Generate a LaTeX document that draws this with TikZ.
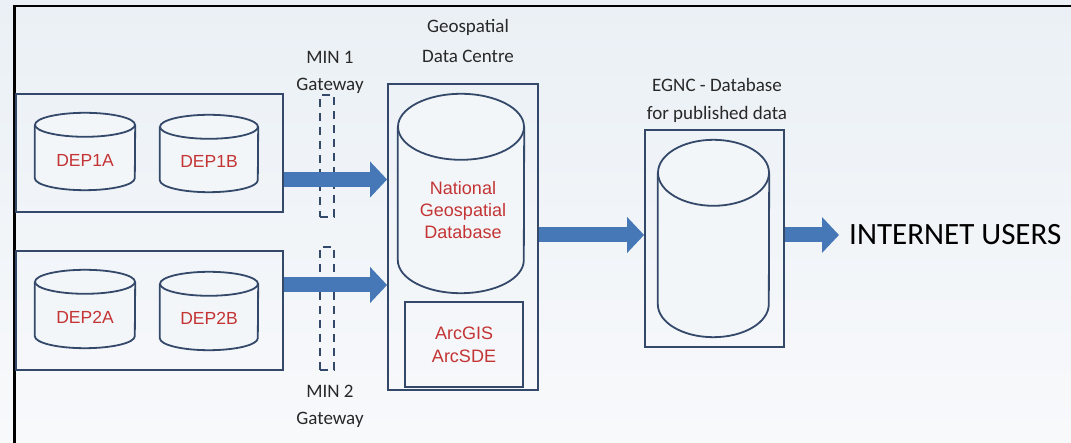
\documentclass[tikz,border=0pt]{standalone}
\usepackage{fontspec}
\setmainfont{Liberation Sans}
\newfontfamily\calfont{Carlito}
\usetikzlibrary{arrows.meta,calc}
\definecolor{bgtop}{RGB}{234,240,245}
\definecolor{bgbot}{RGB}{248,249,251}
\definecolor{navy}{RGB}{52,72,106}
\definecolor{arrowblue}{RGB}{70,120,184}
\definecolor{labred}{RGB}{196,52,52}
\definecolor{labgrey}{RGB}{40,40,40}
\definecolor{cylfill}{RGB}{243,246,249}
\tikzset{
  frame/.style={draw=navy, line width=1.8pt},
  gate/.style={draw=navy, line width=1.6pt, dash pattern=on 8pt off 6pt},
  cylarea/.style={draw=none, inner sep=0pt},
  cylline/.style={draw=navy, line width=1.8pt, fill=cylfill},
  redlab/.style={text=labred, font=\fontsize{17.5}{22}\selectfont, align=center, inner sep=0pt},
  greylab/.style={text=labgrey, font=\calfont\fontsize{19}{28}\selectfont, inner sep=0pt},
  flow/.style={draw=arrowblue, line width=15pt, -{Triangle[width=35pt,length=17pt]}, shorten >=0pt},
}
% \drawcyl{node}{rx}{ry}: node spans the whole cylinder
\newcommand{\drawcyl}[3]{%
  \path[cylline] ($(#1.north west)+(0,#3)$) -- ($(#1.south west)-(0,#3)$)
     arc[start angle=180, end angle=360, x radius=#2pt, y radius=#3pt]
     -- ($(#1.north east)+(0,#3)$);
  \path[cylline] ($(#1.north)+(0,#3)$) ellipse[x radius=#2pt, y radius=#3pt];
}
\begin{document}
\begin{tikzpicture}[x=1pt,y=-1pt]
\useasboundingbox (0,0) rectangle (1071,443);
\shade[top color=bgtop, bottom color=bgbot] (0,0) rectangle (1071,443);
\draw[black, line width=2.2pt] (14.5,443) -- (14.5,6) -- (1071,6);

% department boxes
\node[frame, minimum width=267pt, minimum height=118pt, inner sep=0pt] (box1) at (149.5,153) {};
\node[frame, minimum width=267pt, minimum height=119pt, inner sep=0pt] (box2) at (149.5,310.5) {};

% small cylinders
\node[cylarea, minimum width=100pt, minimum height=77pt] (d1a) at (85,151.5) {};
\node[cylarea, minimum width=98pt, minimum height=77pt] (d1b) at (209,153.5) {};
\node[cylarea, minimum width=100pt, minimum height=78pt] (d2a) at (85,309) {};
\node[cylarea, minimum width=98pt, minimum height=78pt] (d2b) at (209,311) {};
\drawcyl{d1a}{50}{12}
\drawcyl{d1b}{49}{12}
\drawcyl{d2a}{50}{12}
\drawcyl{d2b}{49}{12}
\node[redlab] (t1a) at (85,160) {DEP1A};
\node[redlab] (t1b) at (209,161) {DEP1B};
\node[redlab] (t2a) at (85,317) {DEP2A};
\node[redlab] (t2b) at (209,318) {DEP2B};

% gateways
\node[gate, minimum width=14pt, minimum height=122pt, inner sep=0pt] (gw1) at (327,156) {};
\node[gate, minimum width=14pt, minimum height=123pt, inner sep=0pt] (gw2) at (327,308.5) {};
\node[greylab] (min1) at (330,57) {MIN 1};
\node[greylab] (gwl1) at (330,86) {Gateway};
\node[greylab] (min2) at (330,391) {MIN 2};
\node[greylab] (gwl2) at (330,420) {Gateway};

% geospatial data centre
\node[frame, minimum width=150pt, minimum height=306pt, inner sep=0pt] (gdc) at (463,237) {};
\node[greylab] (gdcl1) at (468,27) {Geospatial};
\node[greylab] (gdcl2) at (468,56) {Data Centre};
\node[cylarea, minimum width=126pt, minimum height=199pt] (ngd) at (461,193.5) {};
\drawcyl{ngd}{63}{33}
\node[redlab, font=\fontsize{18}{22}\selectfont] (ngdt) at (463,210) {National\\Geospatial\\Database};
\node[frame, minimum width=118pt, minimum height=85pt, inner sep=0pt, align=center,
      text=labred, font=\fontsize{18}{23}\selectfont] (arc) at (464,344.5) {ArcGIS\\ArcSDE};

% EGNC
\node[frame, minimum width=139pt, minimum height=217pt, inner sep=0pt] (egnc) at (714.5,238.5) {};
\node[greylab] (egl1) at (717,85) {EGNC - Database};
\node[greylab] (egl2) at (717,114) {for published data};
\node[cylarea, minimum width=111pt, minimum height=197pt] (edb) at (713.5,238.5) {};
\drawcyl{edb}{55.5}{33}

% users
\node[anchor=west, inner sep=0pt, text=black, font=\calfont\fontsize{31}{36}\selectfont] (users) at (849,235) {INTERNET USERS};

% arrows
\coordinate (a1s) at (box1.east |- 0,179.5);
\coordinate (a1e) at (gdc.west |- 0,179.5);
\coordinate (a2s) at (box2.east |- 0,285);
\coordinate (a2e) at (gdc.west |- 0,285);
\coordinate (a3s) at (gdc.east |- 0,235);
\coordinate (a3e) at (egnc.west |- 0,235);
\coordinate (a4s) at (egnc.east |- 0,235);
\coordinate (a4e) at ($(users.west)+(-10,0)$);
\draw[flow] (a1s) -- (a1e);
\draw[flow] (a2s) -- (a2e);
\draw[flow] (a3s) -- (a3e);
\draw[flow] (a4s) -- (a4e);
\end{tikzpicture}
\end{document}
